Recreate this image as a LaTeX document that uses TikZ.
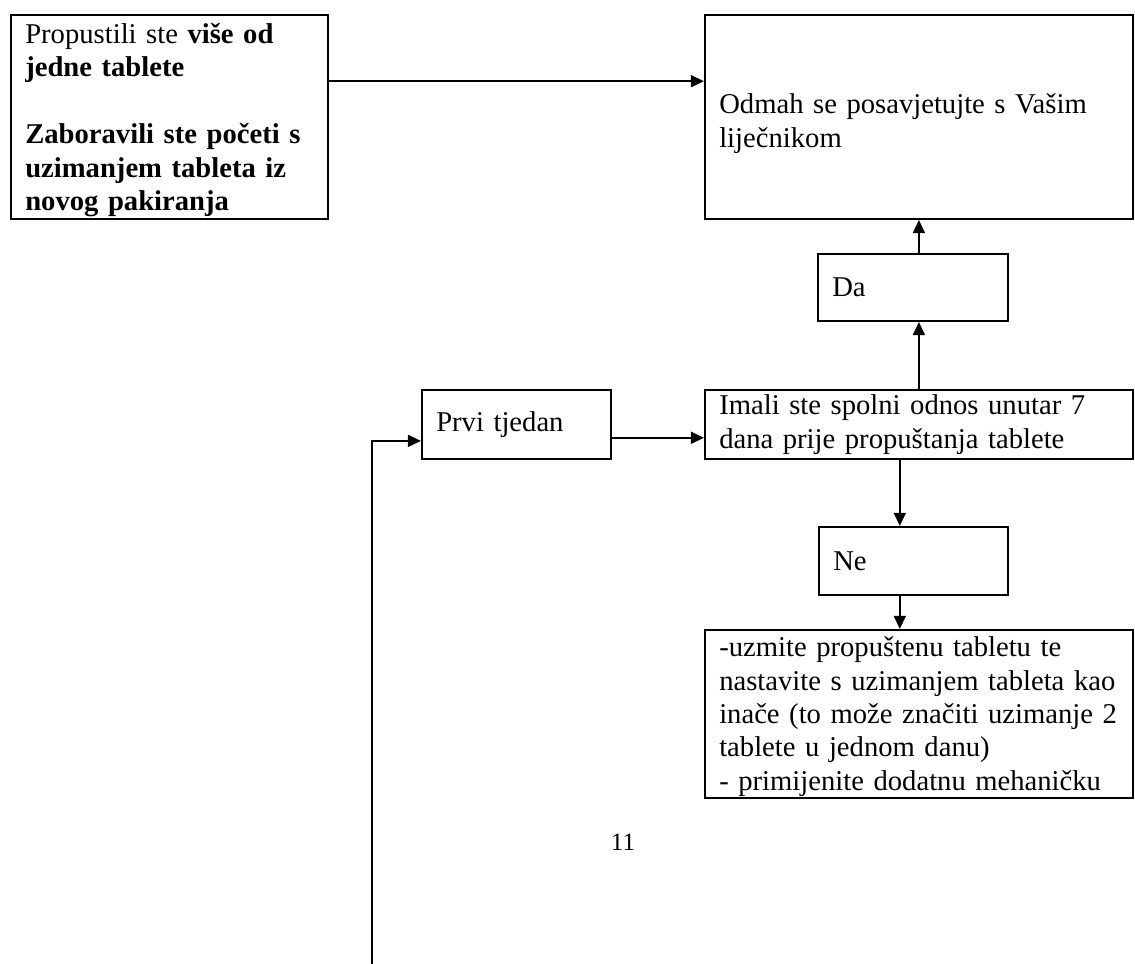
\documentclass[tikz,border=0pt]{standalone}
\usepackage{fontspec}
\setmainfont{Liberation Serif}
\usepackage{tikz}
\usetikzlibrary{positioning, arrows.meta}
\definecolor{pilInk}{RGB}{0, 0, 0}
\tikzset{
    base/.style={
        font=\fontsize{12}{14}\selectfont,
        align=left
    },
    box/.style={
        base,
        rectangle,
        draw=pilInk,
        text=pilInk,
        line width=0.8pt,
        anchor=north west,
        inner xsep=6pt,
        inner ysep=0.5pt
    },
    flow/.style={
        -{Triangle[length=5.5pt, width=5pt]},
        line width=0.8pt,
        color=pilInk
    }
}

\begin{document}
\begin{tikzpicture}[x=0.419pt, y=-0.419pt]
  \useasboundingbox (0,0) rectangle (1135,964);

  \node[box, minimum width=132.8pt, minimum height=85.5pt, text width=120.8pt] (missed) at (10,14)
    {\rule{0pt}{11pt}Propustili ste \textbf{više od}\\ \textbf{jedne tablete}\\[14pt]
     \textbf{Zaboravili ste početi s}\\ \textbf{uzimanjem tableta iz}\\ \textbf{novog pakiranja}};
  \node[box, minimum width=179.3pt, minimum height=85.5pt, text width=167.3pt] (doctor) at (704,14)
    {\rule{0pt}{14pt}Odmah se posavjetujte s Vašim\\ liječnikom};
  \node[box, minimum width=79.6pt, minimum height=28.1pt, text width=67.6pt] (yes) at (817,253) {Da};
  \node[box, minimum width=79.2pt, minimum height=28.9pt, text width=67.2pt] (week) at (421,389) {Prvi tjedan};
  \node[box, minimum width=179.3pt, minimum height=28.9pt, text width=167.3pt] (sex) at (704,389)
    {Imali ste spolni odnos unutar 7\\ dana prije propuštanja tablete};
  \node[box, minimum width=79.2pt, minimum height=28.5pt, text width=67.2pt] (no) at (818,526) {Ne};
  \node[box, minimum width=179.3pt, minimum height=70.4pt, text width=167.3pt] (advice) at (704,629)
    {\rule{0pt}{10.5pt}-uzmite propuštenu tabletu te\\ nastavite s uzimanjem tableta kao\\
     inače (to može značiti uzimanje 2\\ tablete u jednom danu)\\ - primijenite dodatnu mehaničku};
  \node[base, font=\fontsize{10.5}{12}\selectfont] (pagenum) at (623,842) {11};

  % connectors
  \coordinate (noline) at ([xshift=-8pt]sex.south);
  \coordinate (back) at (372,964);
  \draw[flow] ([yshift=15pt]missed.east) -- ([yshift=15pt]doctor.west);
  \draw[flow] (sex.north) -- (sex.north |- yes.south);
  \draw[flow] (yes.north -| doctor.south) -- (doctor.south);
  \draw[flow] ([yshift=-5.6pt]week.east) -- ([yshift=-5.6pt]sex.west);
  \draw[flow] (noline) -- (noline |- no.north);
  \draw[flow] (noline |- no.south) -- (noline |- advice.north);
  \draw[flow] (back) |- ([yshift=-6.9pt]week.west);
\end{tikzpicture}
\end{document}
